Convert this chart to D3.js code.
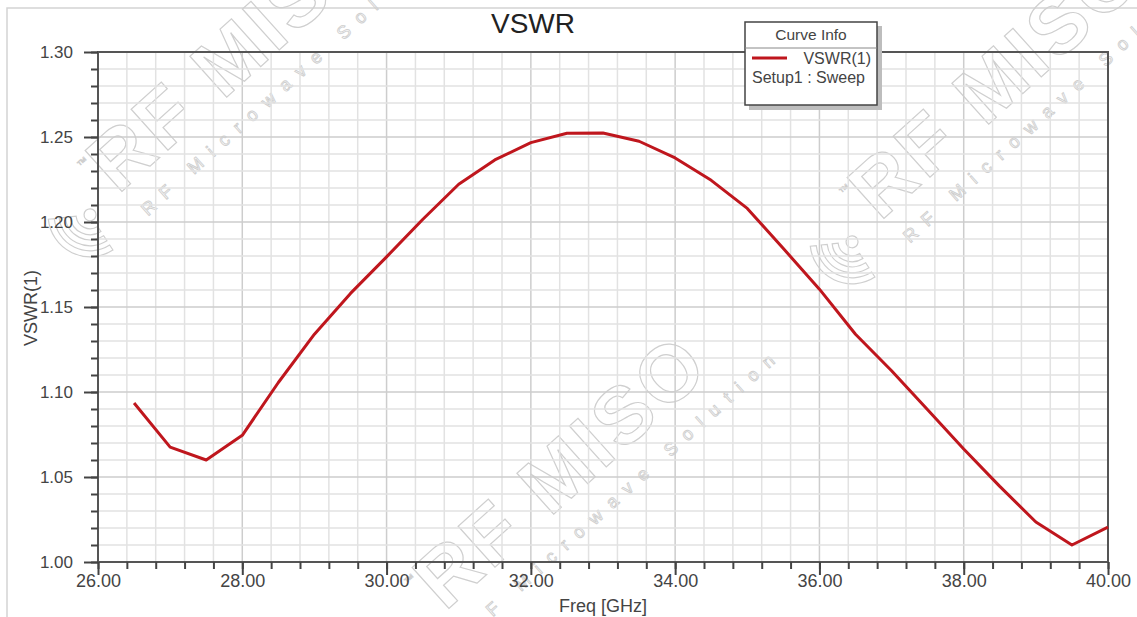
<!DOCTYPE html>
<html>
<head>
<meta charset="utf-8">
<script src="https://cdn.jsdelivr.net/npm/d3@7"></script>
<style>
  html, body { margin: 0; padding: 0; background: #fff; }
  svg { display: block; font-family: "Liberation Sans", Arial, sans-serif; }
</style>
</head>
<body>
<svg id="chart" width="1137" height="617"></svg>
<script>
// sweep points (GHz / VSWR)
var freq = [26.5, 27.0, 27.5, 28.0, 28.5, 29.0, 29.5, 30.0, 30.5, 31.0, 31.5, 32.0, 32.5, 33.0,
            33.5, 34.0, 34.5, 35.0, 35.5, 36.0, 36.5, 37.0, 37.5, 38.0, 38.5, 39.0, 39.5, 40.0];
var vswr = [1.0935, 1.0676, 1.0600, 1.0745, 1.1056, 1.1340, 1.1580, 1.1795, 1.2015, 1.2222, 1.2365, 1.2467, 1.2522, 1.2524,
            1.2475, 1.2377, 1.2245, 1.2080, 1.1844, 1.1605, 1.1340, 1.1125, 1.0895, 1.0665, 1.0445, 1.0235, 1.0100, 1.0205];
var xTicks = [26, 28, 30, 32, 34, 36, 38, 40];
var yTicks = [1.00, 1.05, 1.10, 1.15, 1.20, 1.25, 1.30];
var legendRows = ["VSWR(1)", "Setup1 : Sweep"];

(function(){
var svg = d3.select("#chart"),
    pLeft = 98, pRight = 1108, pTop = 52, pBottom = 562,
    red = "#bf161d", textCol = "#444";

var x = d3.scaleLinear().domain([26, 40]).range([pLeft, pRight]),
    y = d3.scaleLinear().domain([1.0, 1.3]).range([pBottom, pTop]);

var xMinor = d3.range(26, 40.001, 0.4),
    yMinor = d3.range(1.0, 1.3001, 0.01);

// outer frame of the screenshot
svg.append("path")
  .attr("d", "M7,617V8H1137")
  .attr("fill", "none").attr("stroke", "#d4d4d4").attr("stroke-width", 1.5);

// watermark (under the grid)
var wm = svg.append("g").attr("class", "watermark")
  .attr("fill", "none").attr("stroke", "#cfcfcf").attr("stroke-width", 1.2);

var watermark = function(tx, ty){
  var g = wm.append("g").attr("transform", "translate(" + tx + "," + ty + ") rotate(-42)");
  [14, 25, 36].forEach(function(r){
    g.append("path")
      .attr("d", d3.arc()({innerRadius: r, outerRadius: r + 6, startAngle: -Math.PI * 0.95, endAngle: -Math.PI * 0.3}))
      .attr("transform", "translate(-34,-4)");
  });
  g.append("circle").attr("cx", -34).attr("cy", -4).attr("r", 6);
  g.append("text").attr("x", 0).attr("y", 0)
    .attr("font-size", 80).attr("font-weight", "bold").attr("letter-spacing", 4)
    .text("RF MISO");
  g.append("text").attr("x", -10).attr("y", -44)
    .attr("font-size", 11).attr("stroke-width", 0.8).text("™");
  g.append("text").attr("x", 8).attr("y", 36)
    .attr("font-size", 18).attr("letter-spacing", 11).attr("stroke-width", 0.9)
    .text("RF Microwave Solution");
};
watermark(118, 195);
watermark(445, 612);
watermark(880, 222);

// grid
var grid = svg.append("g").attr("class", "grid");
grid.selectAll("line.gx").data(xMinor).enter().append("line")
  .attr("x1", function(d){ return x(d); }).attr("x2", function(d){ return x(d); })
  .attr("y1", pTop).attr("y2", pBottom)
  .attr("stroke", function(d, i){ return i % 5 === 0 ? "#cdcdcd" : "#e2e2e2"; })
  .attr("stroke-width", 1.5);
grid.selectAll("line.gy").data(yMinor).enter().append("line")
  .attr("x1", pLeft).attr("x2", pRight)
  .attr("y1", function(d){ return y(d); }).attr("y2", function(d){ return y(d); })
  .attr("stroke", function(d, i){ return i % 5 === 0 ? "#cdcdcd" : "#e2e2e2"; })
  .attr("stroke-width", 1.5);

// plot frame
svg.append("rect")
  .attr("x", pLeft).attr("y", pTop).attr("width", pRight - pLeft).attr("height", pBottom - pTop)
  .attr("fill", "none").attr("stroke", "#555").attr("stroke-width", 2);

// axes
var fmt = d3.format(".2f");
var styleAxis = function(size){
  return function(g){
    g.select(".domain").remove();
    g.selectAll(".tick line").attr("stroke", "#444").attr("stroke-width", 2);
    g.selectAll(".tick text").attr("fill", textCol).attr("font-size", size)
      .attr("font-family", "Liberation Sans, Arial, sans-serif");
  };
};
svg.append("g").attr("transform", "translate(0," + pBottom + ")")
  .call(d3.axisBottom(x).tickValues(xMinor).tickSize(7).tickFormat(""))
  .call(styleAxis(18));
svg.append("g").attr("transform", "translate(0," + pBottom + ")")
  .call(d3.axisBottom(x).tickValues(xTicks).tickSize(13).tickPadding(-1).tickFormat(fmt))
  .call(styleAxis(18));
svg.append("g").attr("transform", "translate(" + pLeft + ",0)")
  .call(d3.axisLeft(y).tickValues(yMinor).tickSize(7).tickFormat(""))
  .call(styleAxis(17));
svg.append("g").attr("transform", "translate(" + pLeft + ",0)")
  .call(d3.axisLeft(y).tickValues(yTicks).tickSize(14).tickPadding(11).tickFormat(fmt))
  .call(styleAxis(17));

// curve
var pts = freq.map(function(f, i){ return [f, vswr[i]]; });
svg.append("path").datum(pts)
  .attr("fill", "none").attr("stroke", red).attr("stroke-width", 3)
  .attr("stroke-linejoin", "round")
  .attr("d", d3.line().x(function(d){ return x(d[0]); }).y(function(d){ return y(d[1]); }));

// titles
svg.append("text").attr("x", 533).attr("y", 33).attr("text-anchor", "middle")
  .attr("font-size", 28).attr("fill", "#222").text("VSWR");
svg.append("text").attr("x", 603).attr("y", 612).attr("text-anchor", "middle")
  .attr("font-size", 18).attr("fill", textCol).text("Freq [GHz]");
svg.append("text").attr("transform", "translate(37,308) rotate(-90)").attr("text-anchor", "middle")
  .attr("font-size", 18).attr("fill", textCol).text("VSWR(1)");

// legend
var lg = svg.append("g").attr("transform", "translate(745,22)");
lg.append("rect").attr("x", 4).attr("y", 4).attr("width", 133).attr("height", 84).attr("fill", "#bdbdbd");
lg.append("rect").attr("width", 132).attr("height", 83).attr("fill", "#fff")
  .attr("stroke", "#444").attr("stroke-width", 1.5);
lg.append("line").attr("x1", 0).attr("x2", 132).attr("y1", 26).attr("y2", 26)
  .attr("stroke", "#888").attr("stroke-width", 1);
lg.append("text").attr("x", 66).attr("y", 18).attr("text-anchor", "middle")
  .attr("font-size", 15.5).attr("fill", textCol).text("Curve Info");
lg.append("line").attr("x1", 7).attr("x2", 42).attr("y1", 36).attr("y2", 36)
  .attr("stroke", red).attr("stroke-width", 3);
lg.append("text").attr("x", 126).attr("y", 42).attr("text-anchor", "end")
  .attr("font-size", 16).attr("fill", textCol).text(legendRows[0]);
lg.append("text").attr("x", 7).attr("y", 61)
  .attr("font-size", 16).attr("fill", textCol).text(legendRows[1]);
})();
</script>
</body>
</html>
